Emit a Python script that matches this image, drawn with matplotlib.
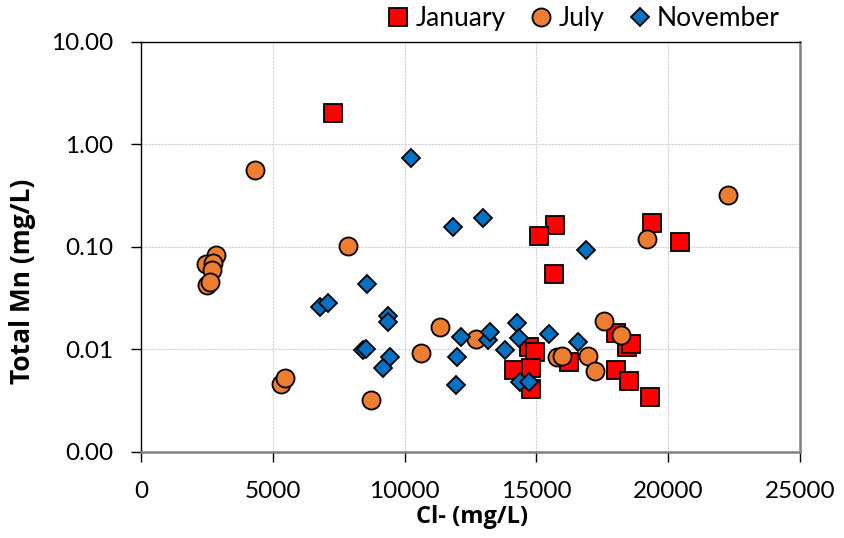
import numpy as np
import matplotlib.pyplot as plt
from matplotlib.ticker import FixedLocator, NullLocator

plt.rcParams['font.family'] = ['Lato', 'DejaVu Sans']

# Cl- (mg/L) and total Mn (mg/L) per sampling campaign
jan_cl = [7300, 19400, 15700, 15100, 20450, 15650, 14700, 14950, 14150, 14800,
          14800, 16250, 18000, 18450, 18600, 18000, 18500, 19300]
jan_mn = [2.03, 0.171, 0.164, 0.128, 0.112, 0.0546, 0.0106, 0.0095, 0.0063, 0.0066,
          0.0041, 0.0076, 0.0145, 0.0106, 0.0113, 0.0063, 0.0049, 0.0034]

jul_cl = [4330, 7870, 2850, 2470, 2740, 2700, 2510, 2620, 5320, 5470,
          8740, 10640, 11360, 12690, 15770, 15960, 16950, 17210, 17550, 18200,
          19190, 22260]
jul_mn = [0.564, 0.102, 0.084, 0.068, 0.070, 0.060, 0.043, 0.046, 0.0046, 0.0053,
          0.0032, 0.0093, 0.0166, 0.0126, 0.0085, 0.0087, 0.0087, 0.0062, 0.0190, 0.0138,
          0.120, 0.321]

nov_cl = [10260, 11850, 12960, 16870, 8590, 6800, 7110, 9380, 9380, 8430,
          8550, 9460, 9190, 12000, 11930, 12120, 13150, 13220, 14280, 14320,
          13790, 15460, 16560, 14360, 14700]
nov_mn = [0.738, 0.157, 0.192, 0.0935, 0.0436, 0.026, 0.0285, 0.0212, 0.0185, 0.0099,
          0.0101, 0.0085, 0.0066, 0.0085, 0.0045, 0.0132, 0.0124, 0.0148, 0.0182, 0.0129,
          0.0099, 0.0142, 0.0118, 0.0048, 0.0048]

x_ticks = [0, 5000, 10000, 15000, 20000, 25000]
y_ticks = [0.001, 0.01, 0.1, 1, 10]
y_labels = ['0.00', '0.01', '0.10', '1.00', '10.00']

fig = plt.figure(figsize=(8.44, 5.38), dpi=100)
ax = fig.add_axes([0.167, 0.160, 0.781, 0.762])

ax.plot(jan_cl, jan_mn, ls='none', marker='s', ms=13, mfc='#FF0000',
        mec='black', mew=1.3, label='January', zorder=3)
ax.plot(jul_cl, jul_mn, ls='none', marker='o', ms=13, mfc='#ED7D31',
        mec='black', mew=1.3, label='July', zorder=4)
ax.plot(nov_cl, nov_mn, ls='none', marker='D', ms=8.7, mfc='#0070C0',
        mec='black', mew=1.3, label='November', zorder=5)

ax.set_yscale('log')
ax.set_xlim(0, 25000)
ax.set_ylim(0.001, 10)
ax.xaxis.set_major_locator(FixedLocator(x_ticks))
ax.yaxis.set_major_locator(FixedLocator(y_ticks))
ax.yaxis.set_minor_locator(NullLocator())
ax.set_yticklabels(y_labels)
ax.tick_params(axis='both', which='major', direction='out', length=7, width=1,
               labelsize=17.5, color='black')
ax.tick_params(axis='x', pad=14)
ax.tick_params(axis='y', pad=13)

ax.grid(True, color='#d0d0d0', ls=(0, (2, 1)), lw=0.8, zorder=0)

for side in ('top', 'left'):
    ax.spines[side].set_color('black')
    ax.spines[side].set_linewidth(1.0)
for side in ('bottom', 'right'):
    ax.spines[side].set_color('#808080')
    ax.spines[side].set_linewidth(1.8)

ax.set_xlabel('Cl- (mg/L)', fontsize=17, fontweight='bold',
              family=['Open Sans', 'DejaVu Sans'])
ax.set_ylabel('Total Mn (mg/L)', fontsize=19, fontweight='bold',
              family=['Open Sans', 'DejaVu Sans'])
ax.xaxis.label.set_va('center')
ax.yaxis.label.set_va('center')
ax.xaxis.set_label_coords(0.502, -0.159)
ax.yaxis.set_label_coords(-0.179, 0.415)

ax.legend(loc='center', bbox_to_anchor=(0.691, 0.965), bbox_transform=fig.transFigure,
          ncol=3, frameon=False, fontsize=19, handletextpad=0.2,
          columnspacing=0.9, borderaxespad=0, handlelength=0.9)

fig.savefig('out.png', dpi=100)
